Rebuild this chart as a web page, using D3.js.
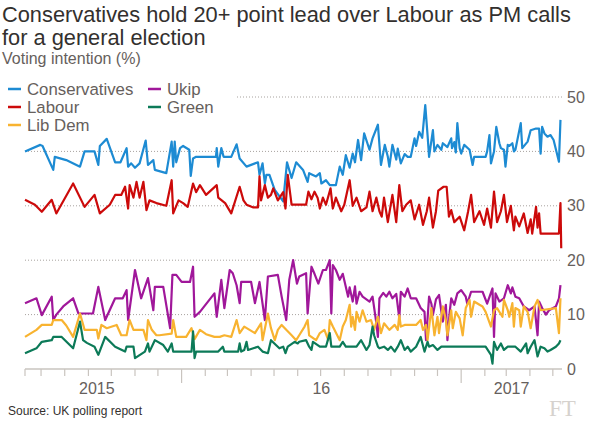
<!DOCTYPE html>
<html><head><meta charset="utf-8">
<script src="https://cdn.jsdelivr.net/npm/d3@7"></script>
<style>body{margin:0;background:#fff}svg{display:block}</style>
</head><body><svg id="c" width="600" height="423"></svg>
<script>
// ---- data (dates as day offsets from 10 Jun 2015) ----
const startDate = new Date(2015, 5, 10);
const endDay = 703;
const yTicks = [0, 10, 20, 30, 40, 50];
const yearLabels = [["2015", "2015-09-12"], ["16", "2016-07-02"], ["2017", "2017-03-08"]];
const seriesNames = ["Conservatives", "Labour", "Lib Dem", "Ukip", "Green"];
const seriesColors = ["#1d8bd3", "#cc0a0a", "#f8b330", "#a0179a", "#0c7a58"];

const conservatives = [[0,40],[20,41.2],[23,41],[37,36.6],[39,39],[54,38.4],[72,37.2],[78,40],[91,40],[96,37.5],[98,41],[107,42.3],[118,38],[125,38],[133,40.6],[135,37.2],[139,37.8],[144,37],[150,37.8],[158,42],[161,37.5],[168,38.4],[170,36.6],[185,36],[192,41.8],[194,37.2],[196,41.8],[198,38],[203,40.6],[207,41],[215,40.3],[217,35.5],[220,38.7],[224,39],[250,39],[251,40.6],[253,37.2],[257,40.6],[260,39],[270,39],[277,41.3],[281,38.7],[290,37.2],[305,38],[307,35.7],[311,37.8],[314,34.1],[316,35.7],[320,35.7],[327,32.9],[338,30.8],[343,38],[349,35.1],[355,38],[364,36.6],[370,34.4],[372,36],[381,35.4],[386,36],[388,34.1],[394,34.7],[399,33.8],[407,33.8],[412,37.2],[416,35.7],[420,39.3],[425,37],[429,39.6],[432,38],[436,42.1],[440,38.4],[444,43.3],[451,40.3],[455,42.4],[462,44.9],[466,37.5],[471,41.2],[475,39],[477,37.2],[481,41.2],[486,38.5],[488,40.5],[492,37.8],[497,39.5],[501,39],[505,39],[510,42.4],[512,41],[516,43.6],[520,42.5],[524,48.5],[527,43],[529,39],[534,43.9],[536,40],[540,41.2],[545,40.3],[547,41.5],[553,40.8],[558,42.4],[559,40.6],[562,41.7],[564,39.8],[566,45.2],[569,40.6],[571,39.6],[575,41.2],[582,40.3],[586,37.5],[588,39],[603,39],[605,40],[608,43],[610,37.8],[614,40],[617,44.5],[621,41.5],[623,40.6],[627,40.3],[629,37.2],[632,41.2],[634,41],[638,41.5],[640,40],[642,40.3],[649,45.2],[651,40.6],[658,41.8],[662,43.9],[669,44.2],[673,44.2],[675,39.6],[677,44.5],[680,43.3],[684,42.7],[688,43],[692,42.1],[699,38.1],[701,45.8]];

const labour = [[0,31.1],[13,30.2],[22,28.9],[35,31.1],[41,28.6],[63,34.1],[78,29.8],[91,32],[98,28.6],[111,30.2],[118,32],[126,32],[131,33.5],[135,29.5],[137,33.8],[142,31.5],[146,34.4],[150,31.5],[155,34.4],[159,29.2],[163,31],[172,30.5],[185,30],[192,34.7],[194,28.6],[201,31],[207,30.5],[213,29.8],[220,34.1],[224,32.5],[229,33.8],[237,32],[251,33.8],[253,31.5],[262,30.5],[270,28.6],[281,33.5],[286,31],[290,30.2],[299,29.7],[305,29.7],[307,35.4],[309,31],[314,33.8],[318,31.5],[322,32],[325,33.2],[331,31],[338,32.5],[341,29.5],[344,35.7],[349,30.2],[368,30.2],[371,32.6],[375,31.2],[379,32.6],[383,31.5],[386,29.5],[390,31.5],[394,30.2],[400,33.2],[403,29.5],[407,31.5],[414,29],[418,30.2],[425,34.7],[429,30],[434,31.5],[440,29],[447,29.7],[451,32.6],[455,29],[460,31.5],[464,29],[467,28],[470,31.5],[475,27],[481,32],[486,27],[490,33.8],[494,29],[499,30.2],[505,31],[510,27.5],[516,30.2],[521,26.5],[526,29],[529,31.5],[534,26],[538,29],[541,32.8],[548,33.5],[552,33.5],[555,28],[558,29.2],[562,27],[569,28],[575,25.5],[580,28.9],[584,32],[588,27],[595,29],[601,26.5],[605,29.5],[610,26],[614,32.6],[618,27],[623,29],[627,32],[631,27],[636,30],[640,25.5],[642,28],[647,26.2],[653,28.6],[658,25],[662,27.5],[664,24.9],[669,29.8],[671,26],[673,28.6],[675,24.9],[699,24.9],[701,30.5],[702,22.2]];

const libDem = [[0,5.9],[15,7.2],[22,8.1],[35,8.1],[37,9],[48,9],[54,8],[63,5.9],[72,10.2],[78,7.2],[94,7.2],[96,5.6],[100,8.1],[107,7.5],[120,8.1],[126,6.2],[133,6.2],[137,9],[142,7.2],[155,7.2],[159,5.3],[161,9],[166,7.2],[172,6.2],[176,6.2],[192,6.5],[194,9],[198,5.9],[211,5.9],[218,7.5],[222,5.5],[229,7.2],[237,6.4],[248,5.9],[255,5.9],[261,6.2],[270,5.9],[277,9],[281,6.6],[287,7.8],[294,7.2],[301,6.6],[309,8.4],[311,5.3],[318,10.2],[322,7.5],[327,5.3],[331,7.2],[336,8.1],[342,7.2],[349,6.2],[355,5.3],[359,6.2],[366,7.8],[370,9],[372,6.2],[381,5.3],[386,6.6],[392,7.2],[397,5.3],[399,9],[403,7.8],[412,5.3],[416,7.8],[420,9],[425,11.8],[427,7.8],[429,9.6],[432,7.2],[434,10.5],[438,8.7],[442,10.8],[447,8.7],[453,9],[457,7.2],[462,9.6],[466,6.6],[470,8.4],[477,7.2],[484,8.1],[488,7.2],[490,9.9],[492,7.8],[497,8.1],[512,8.1],[518,9],[521,7.2],[525,8.1],[527,5.3],[532,11.2],[536,6.2],[540,9.6],[542,6.6],[547,11.5],[551,9],[553,6.2],[558,10.8],[560,7.5],[564,10.5],[569,9.3],[573,6.2],[577,11.2],[582,12.7],[584,9.6],[588,12.4],[595,11.8],[599,11.5],[603,10.5],[610,7.8],[614,10.8],[618,11.2],[625,9.6],[627,12.7],[632,10.8],[634,9.6],[638,12.1],[640,7.8],[642,11.2],[647,10.8],[649,7.8],[653,11.5],[658,10.5],[662,7.5],[667,11.5],[671,12.7],[675,10.8],[695,11.2],[699,6.6],[701,13]];

const ukip = [[0,12.1],[15,13],[22,9.9],[35,13.3],[37,9],[41,10],[50,11.5],[63,13],[70,10.2],[89,10.2],[96,15.1],[105,9],[118,13],[128,13],[133,14.5],[135,9],[144,18.2],[152,13],[161,16.7],[168,10.8],[170,15.1],[181,15.1],[190,7.5],[193,17.3],[198,17.3],[205,16],[216,16],[220,18.8],[222,9.6],[229,10.5],[248,13.9],[251,9.6],[257,16.4],[261,11.2],[268,18.2],[272,17.6],[277,15.4],[281,12.1],[283,16],[296,16],[301,12.1],[307,16],[310,13],[314,9],[318,17],[331,17.3],[336,13.3],[342,9],[346,16.4],[351,20],[356,15.7],[359,17],[368,17.6],[370,10.2],[375,18.8],[379,17.5],[384,15.7],[390,18.2],[394,18.2],[399,20],[401,10.2],[403,19.1],[407,18.2],[412,16.4],[416,17.5],[423,13.3],[425,15],[429,12.4],[432,15.2],[434,12],[438,14.2],[442,13.3],[451,12.4],[455,13.3],[460,8.4],[462,5.9],[464,13],[469,14],[473,13.3],[477,14.2],[481,13],[486,13.8],[490,9.3],[492,14.2],[497,13.3],[501,14.8],[505,13],[512,13],[518,11.2],[523,10.5],[525,5.3],[529,13.3],[532,12],[534,9.9],[538,12.8],[542,13.6],[547,8.7],[551,11.8],[553,5.3],[556,10.5],[558,13],[562,11.8],[566,13.9],[571,14.5],[577,13.3],[579,12],[584,14.2],[590,14.2],[599,14.2],[605,12],[612,14.8],[614,5.9],[616,13.9],[621,12.4],[627,13],[632,15.4],[636,13.9],[638,15],[642,13.3],[647,13],[653,11.5],[660,10.8],[667,11.5],[671,6.2],[673,12.4],[677,11.2],[682,10],[686,10.8],[695,11.5],[699,13],[701,15.4]];

const green = [[0,2.9],[15,3.8],[22,5],[35,5.3],[37,5.9],[48,5.9],[63,3.8],[72,8.7],[76,5.3],[81,4.8],[91,4.1],[96,2.6],[105,5.9],[118,4.1],[131,3.2],[133,4.1],[142,4.1],[144,2],[157,3.2],[161,4.7],[163,3.2],[170,5.3],[181,4.4],[187,3.2],[192,4.7],[194,3.2],[218,3.2],[220,6.9],[222,2],[224,3.2],[253,3.2],[259,4.1],[261,3.2],[279,3.2],[281,4.7],[283,3.2],[287,3.5],[290,5],[292,3.5],[305,4.1],[311,3.2],[318,2.9],[322,5.3],[333,3.8],[338,4.1],[341,2.9],[344,4.1],[353,5],[357,4.7],[359,5],[368,5.3],[372,4.1],[375,3.5],[377,5],[386,4.1],[394,4.1],[399,6.6],[401,4.1],[412,4.1],[416,5],[420,4.1],[434,4.1],[440,5.3],[447,3.5],[451,4.4],[455,7.8],[457,6.2],[462,4.1],[464,3.8],[470,4.1],[475,3.5],[479,4.1],[484,3.2],[488,4.1],[492,5.3],[497,3.5],[501,4.1],[505,3.2],[512,4.1],[516,5.3],[518,5.9],[523,3.2],[527,5],[529,4.1],[534,4.4],[540,3.5],[545,4.1],[574,4.1],[603,4.1],[610,2.6],[612,1],[614,5],[618,3.5],[623,4.7],[627,3.5],[632,4.1],[642,4.1],[649,3.2],[656,4.7],[658,2.9],[662,4.1],[667,5.3],[671,2.3],[675,4.1],[680,3.8],[684,3.2],[688,3.5],[695,4.1],[699,4.7],[701,5.3]];

const seriesData = [conservatives, labour, libDem, ukip, green];
const drawOrder = [0, 1, 3, 2, 4];

// ---- layout ----
const svg = d3.select("#c");
const plotL = 25, plotR = 562, plotT = 97, plotB = 369;
const textCol = "#33302e", greyCol = "#66605c", font = "'Liberation Sans', Arial, sans-serif";
const endDate = d3.timeDay.offset(startDate, endDay);
const x = d3.scaleTime().domain([startDate, endDate]).range([plotL, plotR]);
const y = d3.scaleLinear().domain([0, 50]).range([plotB, plotT]);
const toDate = d => d3.timeDay.offset(startDate, d);

svg.append("rect").attr("width", 600).attr("height", 423).attr("fill", "#fff");

// title
const title = svg.append("text").attr("font-family", font).attr("font-size", 21.8).attr("fill", textCol);
title.append("tspan").attr("x", 2).attr("y", 22).text("Conservatives hold 20+ point lead over Labour as PM calls");
title.append("tspan").attr("x", 2).attr("y", 45).text("for a general election");
svg.append("text").attr("x", 2).attr("y", 64).attr("font-family", font).attr("font-size", 16)
  .attr("fill", greyCol).text("Voting intention (%)");

// gridlines
const grid = svg.append("g");
yTicks.filter(t => t > 0).forEach(t => {
  grid.append("line").attr("x1", t === 50 ? 237 : plotL).attr("x2", plotR)
    .attr("y1", y(t)).attr("y2", y(t))
    .attr("stroke", "#a7a29e").attr("stroke-width", 1).attr("stroke-dasharray", "1,2");
});
// y labels
svg.append("g").selectAll("text").data(yTicks).join("text")
  .attr("x", 567).attr("y", d => y(d)).attr("dy", "0.35em")
  .attr("font-family", font).attr("font-size", 16).attr("fill", greyCol).text(d => d);

// x axis
const axisG = svg.append("g");
axisG.append("line").attr("x1", plotL).attr("x2", plotR).attr("y1", plotB).attr("y2", plotB)
  .attr("stroke", "#c9c4bf").attr("stroke-width", 1.5);
const monthTicks = [startDate].concat(d3.timeMonth.range(startDate, endDate));
axisG.selectAll("line.t").data(monthTicks).join("line").attr("class", "t")
  .attr("x1", d => x(d)).attr("x2", d => x(d)).attr("y1", plotB)
  .attr("y2", d => (d.getMonth() === 0 && d.getDate() === 1) ? plotB + 14 : plotB + 7)
  .attr("stroke", "#c9c4bf").attr("stroke-width", 1.2);
axisG.selectAll("text").data(yearLabels).join("text")
  .attr("x", d => x(new Date(d[1]))).attr("y", 394).attr("text-anchor", "middle")
  .attr("font-family", font).attr("font-size", 16).attr("fill", greyCol).text(d => d[0]);

// lines
const line = d3.line().x(d => x(toDate(d[0]))).y(d => y(d[1]));
drawOrder.forEach(i => {
  svg.append("path").datum(seriesData[i]).attr("d", line)
    .attr("fill", "none").attr("stroke", seriesColors[i]).attr("stroke-width", 2.2)
    .attr("stroke-linejoin", "round");
});

// legend
const legPos = [[8, 0], [8, 1], [8, 2], [148, 0], [148, 1]];
seriesNames.forEach((n, i) => {
  const [lx, row] = legPos[i];
  const ly = 89 + row * 18;
  svg.append("line").attr("x1", lx).attr("x2", lx + 13).attr("y1", ly).attr("y2", ly)
    .attr("stroke", seriesColors[i]).attr("stroke-width", 2.5);
  svg.append("text").attr("x", lx + 19).attr("y", ly + 5.8).attr("font-family", font)
    .attr("font-size", 16.8).attr("fill", greyCol).text(n);
});

// source + logo
svg.append("text").attr("x", 8).attr("y", 415).attr("font-family", font).attr("font-size", 12)
  .attr("fill", textCol).text("Source: UK polling report");
svg.append("text").attr("x", 549).attr("y", 416).attr("font-family", "'Liberation Serif', serif")
  .attr("font-size", 23).attr("fill", "#d6d2ce").text("FT");
</script></body></html>
